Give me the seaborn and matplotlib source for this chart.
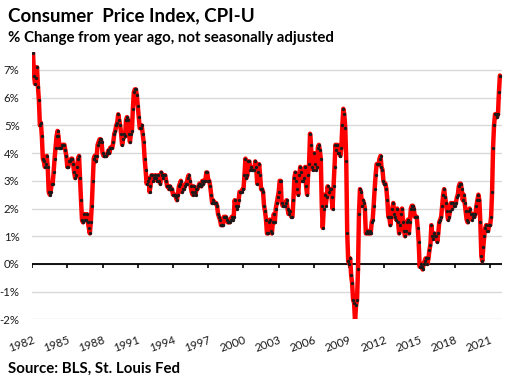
import numpy as np
import pandas as pd
import matplotlib
matplotlib.use("Agg")
import matplotlib.pyplot as plt
import seaborn as sns

# CPI-U, % change from year ago, monthly Jan 1982 - Nov 2021
cpi_yoy = {
    1982: [8.4, 7.6, 6.8, 6.5, 6.7, 7.1, 6.4, 5.9, 5.0, 5.1, 4.6, 3.8],
    1983: [3.7, 3.5, 3.6, 3.9, 3.5, 2.6, 2.5, 2.6, 2.9, 2.9, 3.3, 3.8],
    1984: [4.2, 4.6, 4.8, 4.6, 4.2, 4.2, 4.2, 4.3, 4.3, 4.3, 4.1, 3.9],
    1985: [3.5, 3.5, 3.7, 3.7, 3.8, 3.8, 3.6, 3.3, 3.1, 3.2, 3.5, 3.8],
    1986: [3.9, 3.1, 2.3, 1.6, 1.5, 1.8, 1.6, 1.6, 1.8, 1.5, 1.3, 1.1],
    1987: [1.5, 2.1, 3.0, 3.8, 3.9, 3.7, 3.9, 4.3, 4.4, 4.5, 4.5, 4.4],
    1988: [4.0, 3.9, 3.9, 3.9, 3.9, 4.0, 4.1, 4.0, 4.2, 4.2, 4.2, 4.4],
    1989: [4.7, 4.8, 5.0, 5.1, 5.4, 5.2, 5.0, 4.7, 4.3, 4.5, 4.7, 4.6],
    1990: [5.2, 5.3, 5.2, 4.7, 4.4, 4.7, 4.8, 5.6, 6.2, 6.3, 6.3, 6.1],
    1991: [5.7, 5.3, 4.9, 4.9, 5.0, 4.7, 4.4, 3.8, 3.4, 2.9, 3.0, 3.1],
    1992: [2.6, 2.8, 3.2, 3.2, 3.0, 3.1, 3.2, 3.1, 3.0, 3.2, 3.0, 2.9],
    1993: [3.3, 3.2, 3.1, 3.2, 3.2, 3.0, 2.8, 2.8, 2.7, 2.8, 2.7, 2.7],
    1994: [2.5, 2.5, 2.5, 2.4, 2.3, 2.5, 2.8, 2.9, 3.0, 2.6, 2.7, 2.7],
    1995: [2.8, 2.9, 2.9, 3.1, 3.2, 3.0, 2.8, 2.6, 2.5, 2.8, 2.6, 2.5],
    1996: [2.7, 2.7, 2.8, 2.9, 2.9, 2.8, 3.0, 2.9, 3.0, 3.0, 3.3, 3.3],
    1997: [3.0, 3.0, 2.8, 2.5, 2.2, 2.3, 2.2, 2.2, 2.2, 2.1, 1.8, 1.7],
    1998: [1.6, 1.4, 1.4, 1.4, 1.7, 1.7, 1.7, 1.6, 1.5, 1.5, 1.5, 1.6],
    1999: [1.7, 1.6, 1.7, 2.3, 2.1, 2.0, 2.1, 2.3, 2.6, 2.6, 2.6, 2.7],
    2000: [2.7, 3.2, 3.8, 3.1, 3.2, 3.7, 3.7, 3.4, 3.5, 3.4, 3.4, 3.4],
    2001: [3.7, 3.5, 2.9, 3.3, 3.6, 3.2, 2.7, 2.7, 2.6, 2.1, 1.9, 1.6],
    2002: [1.1, 1.1, 1.5, 1.6, 1.2, 1.1, 1.5, 1.8, 1.5, 2.0, 2.2, 2.4],
    2003: [2.6, 3.0, 3.0, 2.2, 2.1, 2.1, 2.1, 2.2, 2.3, 2.0, 1.8, 1.9],
    2004: [1.9, 1.7, 1.7, 2.3, 3.1, 3.3, 3.0, 2.7, 2.5, 3.2, 3.5, 3.3],
    2005: [3.0, 3.0, 3.1, 3.5, 2.8, 2.5, 3.2, 3.6, 4.7, 4.3, 3.5, 3.4],
    2006: [4.0, 3.6, 3.4, 3.5, 4.2, 4.3, 4.1, 3.8, 2.1, 1.3, 2.0, 2.5],
    2007: [2.1, 2.4, 2.8, 2.6, 2.7, 2.7, 2.4, 2.0, 2.8, 3.5, 4.3, 4.1],
    2008: [4.3, 4.0, 4.0, 3.9, 4.2, 5.0, 5.6, 5.4, 4.9, 3.7, 1.1, 0.1],
    2009: [0.0, 0.2, -0.4, -0.7, -1.3, -1.4, -2.1, -1.5, -1.3, -0.2, 1.8, 2.7],
    2010: [2.6, 2.1, 2.3, 2.2, 2.0, 1.1, 1.2, 1.1, 1.1, 1.2, 1.1, 1.5],
    2011: [1.6, 2.1, 2.7, 3.2, 3.6, 3.6, 3.6, 3.8, 3.9, 3.5, 3.4, 3.0],
    2012: [2.9, 2.9, 2.7, 2.3, 1.7, 1.7, 1.4, 1.7, 2.0, 2.2, 1.8, 1.7],
    2013: [1.6, 2.0, 1.5, 1.1, 1.4, 1.8, 2.0, 1.5, 1.2, 1.0, 1.2, 1.5],
    2014: [1.6, 1.1, 1.5, 2.0, 2.1, 2.1, 2.0, 1.7, 1.7, 1.7, 1.3, 0.8],
    2015: [-0.1, 0.0, -0.1, -0.2, 0.0, 0.1, 0.2, 0.2, 0.0, 0.2, 0.5, 0.7],
    2016: [1.4, 1.0, 0.9, 1.1, 1.0, 1.0, 0.8, 1.1, 1.5, 1.6, 1.7, 2.1],
    2017: [2.5, 2.7, 2.4, 2.2, 1.9, 1.6, 1.7, 1.9, 2.2, 2.0, 2.2, 2.1],
    2018: [2.1, 2.2, 2.4, 2.5, 2.8, 2.9, 2.9, 2.7, 2.3, 2.5, 2.2, 1.9],
    2019: [1.6, 1.5, 1.9, 2.0, 1.8, 1.6, 1.8, 1.7, 1.7, 1.8, 2.1, 2.3],
    2020: [2.5, 2.3, 1.5, 0.3, 0.1, 0.6, 1.0, 1.3, 1.4, 1.2, 1.2, 1.4],
    2021: [1.4, 1.7, 2.6, 4.2, 5.0, 5.4, 5.4, 5.3, 5.4, 6.2, 6.8],
}

year_ticks = list(range(1982, 2022, 3))
y_ticks = [-2, -1, 0, 1, 2, 3, 4, 5, 6, 7]

rows = []
for yr, vals in cpi_yoy.items():
    for m, v in enumerate(vals):
        rows.append((yr + m / 12, v))
df = pd.DataFrame(rows, columns=["date", "cpi"])

sns.set_style("white")
plt.rcParams["font.family"] = ["Lato", "DejaVu Sans"]

fig = plt.figure(figsize=(5.09, 3.82), dpi=100)
ax = fig.add_axes([0.063, 0.164, 0.923, 0.700])

sns.lineplot(data=df, x="date", y="cpi", ax=ax, color="#ff0000", linewidth=3.2,
             marker="o", markersize=2.4, markeredgewidth=0,
             markerfacecolor="#1a1a1a", zorder=3)

ax.set_xlim(1982, 2022)
ax.set_ylim(-2, 7.65)
ax.set_yticks(y_ticks)
ax.set_yticklabels([f"{t}%" for t in y_ticks])
ax.set_xticks(year_ticks)
ax.set_xticklabels([str(t) for t in year_ticks], rotation=20, ha="right",
                   rotation_mode="anchor")
ax.tick_params(axis="x", length=0, pad=11, labelsize=8.4, labelcolor="#1a1a1a")
ax.tick_params(axis="y", length=0, pad=9, labelsize=8.2, labelcolor="#1a1a1a")
ax.yaxis.grid(True, color="#d9d9d9", linewidth=1)
ax.set_axisbelow(True)
for s in ax.spines.values():
    s.set_visible(False)
ax.set_xlabel("")
ax.set_ylabel("")

# horizontal axis drawn at zero with small downward ticks
ax.axhline(0, color="black", linewidth=1.3, zorder=2)
ax.vlines(year_ticks, -0.15, 0, color="black", linewidth=1.2, zorder=2)

fig.text(0.016, 0.945, "Consumer  Price Index, CPI-U", fontsize=13.5,
         fontweight="bold", color="black", va="baseline")
fig.text(0.016, 0.89, "% Change from year ago, not seasonally adjusted",
         fontsize=10.8, fontweight="bold", color="black", va="baseline")
fig.text(0.016, 0.025, "Source: BLS, St. Louis Fed", fontsize=10.8,
         fontweight="bold", color="black", va="baseline")

fig.savefig("out.png", dpi=100)
